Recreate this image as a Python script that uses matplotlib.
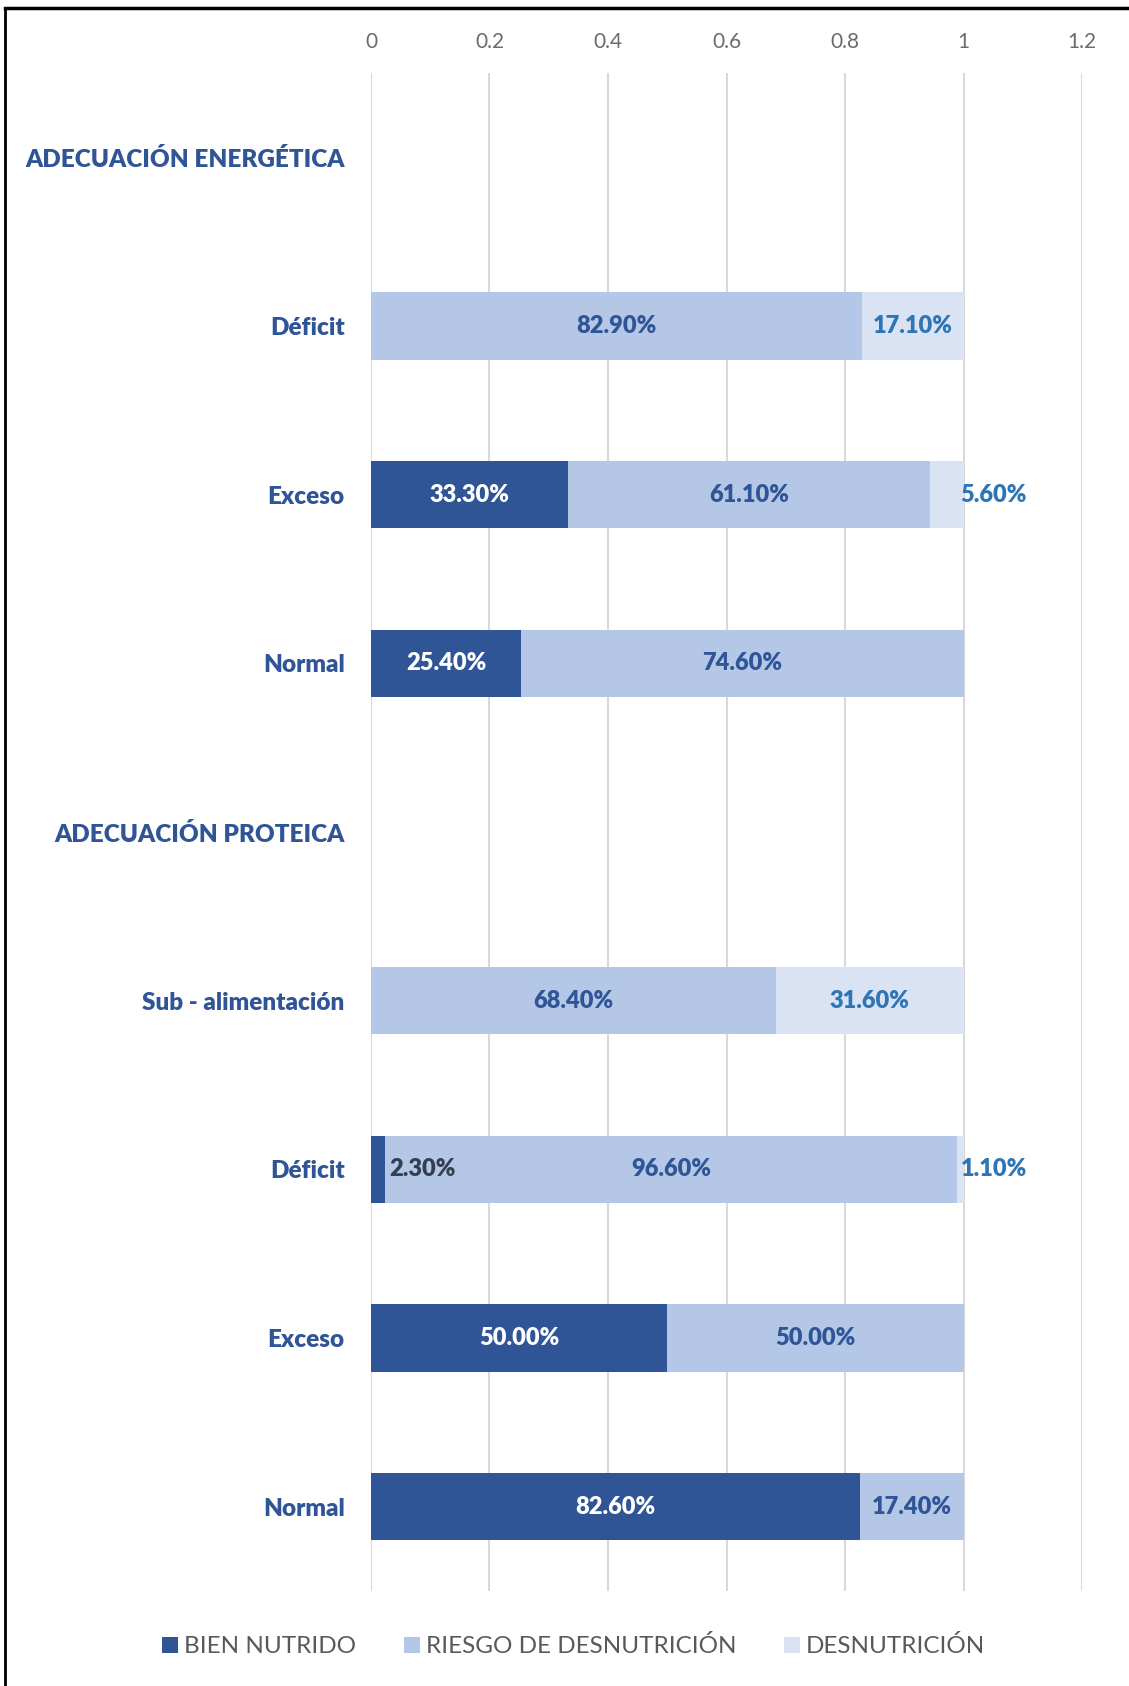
import numpy as np
import matplotlib.pyplot as plt
from matplotlib.lines import Line2D

plt.rcParams['font.family'] = ['Lato', 'DejaVu Sans']

# Data (fractions of 1)
categories = ['ADECUACIÓN ENERGÉTICA', 'Déficit', 'Exceso', 'Normal',
              'ADECUACIÓN PROTEICA', 'Sub - alimentación', 'Déficit', 'Exceso', 'Normal']
bien_nutrido = [0, 0, 0.333, 0.254, 0, 0, 0.023, 0.500, 0.826]
riesgo = [0, 0.829, 0.611, 0.746, 0, 0.684, 0.966, 0.500, 0.174]
desnutricion = [0, 0.171, 0.056, 0, 0, 0.316, 0.011, 0, 0]
series_names = ['BIEN NUTRIDO', 'RIESGO DE DESNUTRICIÓN', 'DESNUTRICIÓN']
xticks = [0, 0.2, 0.4, 0.6, 0.8, 1, 1.2]
xtick_labels = ['0', '0.2', '0.4', '0.6', '0.8', '1', '1.2']

c_dark = '#2F5597'
c_mid = '#B4C7E7'
c_light = '#DAE3F3'

fig = plt.figure(figsize=(11.29, 16.86), dpi=100)
ax = fig.add_axes([0.3286, 0.0563, 0.6298, 0.9004])

y = np.arange(len(categories))
h = 0.4
b1 = np.array(bien_nutrido)
b2 = np.array(riesgo)
b3 = np.array(desnutricion)

ax.barh(y, b1, height=h, color=c_dark, label=series_names[0], zorder=2)
ax.barh(y, b2, height=h, left=b1, color=c_mid, label=series_names[1], zorder=2)
ax.barh(y, b3, height=h, left=b1 + b2, color=c_light, label=series_names[2], zorder=2)

lab_font = dict(fontsize=17, fontweight='heavy', va='center', zorder=3)
for i in range(len(categories)):
    if b1[i] > 0:
        if b1[i] < 0.05:
            ax.text(b1[i] + 0.008, y[i], f'{b1[i]*100:.2f}%', ha='left', color='#333F50', **lab_font)
        else:
            ax.text(b1[i] / 2, y[i], f'{b1[i]*100:.2f}%', ha='center', color='white', **lab_font)
    if b2[i] > 0:
        ax.text(b1[i] + b2[i] / 2, y[i], f'{b2[i]*100:.2f}%', ha='center', color=c_dark, **lab_font)
    if b3[i] > 0:
        if b3[i] < 0.1:
            ax.text(b1[i] + b2[i] + b3[i] - 0.005, y[i], f'{b3[i]*100:.2f}%', ha='left', color='#2E75B6', **lab_font)
        else:
            ax.text(b1[i] + b2[i] + b3[i] / 2, y[i], f'{b3[i]*100:.2f}%', ha='center', color='#2E75B6', **lab_font)

ax.set_xlim(0, 1.2)
ax.set_ylim(len(categories) - 0.5, -0.5)
ax.set_xticks(xticks)
ax.set_xticklabels(xtick_labels, fontsize=15, color='#6b6b6b')
ax.xaxis.tick_top()
ax.tick_params(axis='x', length=0, pad=15)
ax.set_yticks(y)
ax.set_yticklabels(categories, fontsize=17.5, fontweight='heavy', color=c_dark)
ax.tick_params(axis='y', length=0, pad=19)
ax.grid(axis='x', color='#D9D9D9', linewidth=1.5, zorder=0)
ax.set_axisbelow(True)
for s in ax.spines.values():
    s.set_visible(False)

fig.legend(loc='center', bbox_to_anchor=(0.508, 0.0235), ncol=3, frameon=False,
           fontsize=17.5, labelcolor='#595959', handlelength=0.65, handleheight=0.65,
           handletextpad=0.25, columnspacing=1.97)

# frame lines at top and left of the picture
fig.add_artist(Line2D([0.004, 0.004], [0, 0.995], transform=fig.transFigure, color='black', linewidth=2))
fig.add_artist(Line2D([0.004, 1], [0.995, 0.995], transform=fig.transFigure, color='black', linewidth=2.5))

fig.savefig('out.png', dpi=100)
